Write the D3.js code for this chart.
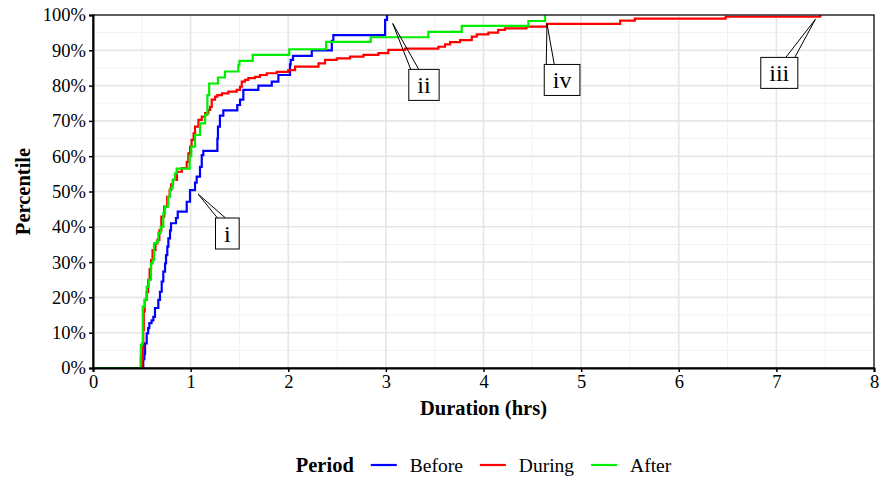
<!DOCTYPE html>
<html>
<head>
<meta charset="utf-8">
<script src="https://cdn.jsdelivr.net/npm/d3@7"></script>
<style>
  body { margin: 0; background: #fff; }
  text { font-family: "Liberation Serif", "Times New Roman", serif; }
</style>
</head>
<body>
<div class="canvas"></div>
<script>
// step points of each ECDF: duration (hrs) and percentile reached at that duration
const beforeHrs = [0.515, 0.526, 0.533, 0.55, 0.565, 0.577, 0.60, 0.618, 0.635, 0.669, 0.686, 0.704, 0.72, 0.738, 0.748, 0.761, 0.772, 0.789, 0.799, 0.85, 0.868, 0.96, 0.994, 1.045, 1.062, 1.096, 1.114, 1.13, 1.274, 1.28, 1.30, 1.335, 1.478, 1.506, 1.54, 1.694, 1.831, 1.899, 2.018, 2.025, 2.049, 2.241, 2.446, 2.462, 2.992, 3.012];
const beforePct = [2.5, 4, 7, 9.8, 11.3, 12.7, 13.5, 14.5, 17, 19.3, 21.6, 24.5, 27.3, 29.6, 32, 34.4, 36.7, 39, 41, 42.5, 44.3, 47.1, 50.4, 52.5, 54.2, 57, 60.3, 61.5, 65, 68.4, 71.5, 73, 74.5, 76, 78.8, 80, 81.1, 83, 86, 87.3, 88.4, 90, 92.7, 94.3, 98.6, 100];

const duringHrs = [0.50, 0.51, 0.515, 0.52, 0.53, 0.55, 0.565, 0.58, 0.595, 0.61, 0.64, 0.66, 0.68, 0.70, 0.73, 0.76, 0.785, 0.80, 0.82, 0.86, 0.91, 0.96, 0.977, 0.995, 1.01, 1.03, 1.045, 1.08, 1.114, 1.148, 1.182, 1.20, 1.216, 1.25, 1.273, 1.32, 1.386, 1.472, 1.506, 1.524, 1.557, 1.591, 1.66, 1.711, 1.78, 1.882, 2.0, 2.07, 2.31, 2.377, 2.497, 2.633, 2.77, 2.923, 3.025, 3.197, 3.538, 3.606, 3.658, 3.76, 3.88, 3.931, 4.05, 4.15, 4.22, 4.44, 4.65, 5.40, 5.55, 6.48, 7.45];
const duringPct = [2.5, 5.6, 10.8, 16, 19.3, 21.5, 25, 28, 30.6, 33.4, 35.3, 36.3, 39, 42.9, 45.7, 48.5, 50.4, 52, 53.3, 55.6, 56.6, 58.4, 60.8, 62.7, 64.6, 66.5, 68.4, 70.3, 71.2, 72.2, 73.1, 74, 76, 76.9, 77.3, 77.8, 78.3, 78.8, 79.7, 81.1, 81.6, 82.1, 82.5, 83, 83.5, 83.9, 84.4, 85.4, 86.3, 87.3, 87.7, 88.2, 88.7, 89.2, 90.1, 90.5, 91, 91.7, 92.3, 92.9, 93.9, 94.5, 95, 95.8, 96.2, 96.7, 97.5, 98.4, 99, 99.5, 100];

const afterHrs = [0.487, 0.49, 0.50, 0.51, 0.53, 0.55, 0.57, 0.594, 0.612, 0.625, 0.652, 0.669, 0.693, 0.72, 0.738, 0.77, 0.789, 0.816, 0.84, 0.857, 0.99, 1.007, 1.045, 1.096, 1.148, 1.172, 1.19, 1.28, 1.352, 1.489, 1.50, 1.636, 2.01, 2.388, 2.845, 3.435, 3.777, 4.46, 4.63];
const afterPct = [3, 6.5, 7, 17.4, 19.3, 23, 25, 29.6, 30.6, 35.3, 35.8, 38.2, 40, 43.8, 45.7, 48.5, 50.9, 53.3, 55.1, 56.5, 60, 62.7, 66, 69.3, 71.7, 77.3, 80.6, 82.3, 84, 85.8, 87, 88.7, 90.3, 92.4, 93.7, 95.2, 96.9, 98.3, 100];

const periods = ["Before", "During", "After"];
const periodColors = ["#0000ff", "#ff0000", "#00ee00"];

const xTicks = [0, 1, 2, 3, 4, 5, 6, 7, 8];
const yTicks = [0, 10, 20, 30, 40, 50, 60, 70, 80, 90, 100];

// callout labels: text, point (hrs, pct), label centre (hrs, pct)
const calloutText = ["i", "ii", "iii", "iv"];
const calloutTip = [[1.076, 49.3], [3.07, 97.6], [7.4, 98.8], [4.65, 97.6]];
const calloutAt = [[1.376, 38.1], [3.39, 80.2], [7.03, 83.6], [4.805, 81.6]];

const width = 884, height = 478;
const margin = { top: 15, right: 10, bottom: 110, left: 93 };

const svg = d3.select(".canvas").append("svg")
  .attr("width", width)
  .attr("height", height)
  .style("font-family", "'Liberation Serif', serif");

const x = d3.scaleLinear().domain([0, 8]).range([margin.left, width - margin.right]);
const y = d3.scaleLinear().domain([0, 100]).range([height - margin.bottom, margin.top]);

// grid
const minorX = d3.range(0.5, 8, 1);
const minorY = d3.range(5, 100, 10);
svg.append("g").selectAll("line").data(minorX).join("line")
  .attr("x1", d => x(d)).attr("x2", d => x(d))
  .attr("y1", y(0)).attr("y2", y(100))
  .attr("stroke", "#f2f2f2").attr("stroke-width", 1);
svg.append("g").selectAll("line").data(minorY).join("line")
  .attr("x1", x(0)).attr("x2", x(8))
  .attr("y1", d => y(d)).attr("y2", d => y(d))
  .attr("stroke", "#f2f2f2").attr("stroke-width", 1);
svg.append("g").selectAll("line").data(xTicks).join("line")
  .attr("x1", d => x(d)).attr("x2", d => x(d))
  .attr("y1", y(0)).attr("y2", y(100))
  .attr("stroke", "#e6e6e6").attr("stroke-width", 1.6);
svg.append("g").selectAll("line").data(yTicks).join("line")
  .attr("x1", x(0)).attr("x2", x(8))
  .attr("y1", d => y(d)).attr("y2", d => y(d))
  .attr("stroke", "#e6e6e6").attr("stroke-width", 1.6);

// ecdf lines
const series = [
  [beforeHrs, beforePct],
  [duringHrs, duringPct],
  [afterHrs, afterPct]
];
const line = d3.line()
  .x(d => x(d[0]))
  .y(d => y(d[1]))
  .curve(d3.curveStepAfter);

series.forEach(([hrs, pct], i) => {
  const pts = [[0, 0]].concat(hrs.map((h, j) => [h, pct[j]]));
  svg.append("path")
    .datum(pts)
    .attr("fill", "none")
    .attr("stroke", periodColors[i])
    .attr("stroke-width", 2.2)
    .attr("d", line);
});

// panel border
svg.append("rect")
  .attr("x", x(0)).attr("y", y(100))
  .attr("width", x(8) - x(0)).attr("height", y(0) - y(100))
  .attr("fill", "none").attr("stroke", "#000").attr("stroke-width", 1.2);

// axes
const xAxis = svg.append("g")
  .attr("transform", `translate(0,${y(0)})`)
  .call(d3.axisBottom(x).tickValues(xTicks).tickFormat(d3.format("d")).tickSize(4).tickPadding(3));
const yAxis = svg.append("g")
  .attr("transform", `translate(${x(0)},0)`)
  .call(d3.axisLeft(y).tickValues(yTicks).tickFormat(d => d + "%").tickSize(4).tickPadding(3));
[xAxis, yAxis].forEach(a => {
  a.select(".domain").attr("stroke", "#000").attr("stroke-width", 2);
  a.selectAll(".tick line").attr("stroke", "#000").attr("stroke-width", 1.5);
  a.selectAll(".tick text")
    .attr("fill", "#000")
    .style("font-family", "'Liberation Serif', serif")
    .style("font-size", "18.5px");
});

svg.append("text")
  .attr("x", (x(0) + x(8)) / 2)
  .attr("y", 415)
  .attr("text-anchor", "middle")
  .style("font-size", "20.5px")
  .style("font-weight", "bold")
  .text("Duration (hrs)");

svg.append("text")
  .attr("transform", `translate(30,${(y(0) + y(100)) / 2}) rotate(-90)`)
  .attr("text-anchor", "middle")
  .style("font-size", "20.5px")
  .style("font-weight", "bold")
  .text("Percentile");

// callouts
calloutText.forEach((t, i) => {
  const g = svg.append("g");
  const tx = x(calloutTip[i][0]), ty = y(calloutTip[i][1]);
  const cx = x(calloutAt[i][0]), cy = y(calloutAt[i][1]);
  const label = g.append("text")
    .attr("x", cx).attr("y", cy)
    .attr("text-anchor", "middle")
    .attr("dominant-baseline", "central")
    .style("font-size", "24px")
    .text(t);
  const w = label.node().getComputedTextLength() + 17;
  const h = 31;
  const left = cx - w / 2, top = cy - h / 2;
  const bx = tx < cx ? [left + 2, left + 10] : [left + w - 12, left + w - 3];
  g.insert("path", "text")
    .attr("d", `M${bx[0]},${top}L${tx},${ty}L${bx[1]},${top}`)
    .attr("fill", "none").attr("stroke", "#000").attr("stroke-width", 1);
  g.insert("rect", "text")
    .attr("x", left).attr("y", top)
    .attr("width", w).attr("height", h)
    .attr("fill", "#fff").attr("stroke", "#000").attr("stroke-width", 1);
});

// legend
const legend = svg.append("g");
const lt = legend.append("text")
  .attr("y", 465).attr("dominant-baseline", "central")
  .style("font-size", "20.5px").style("font-weight", "bold")
  .text("Period");
let cursor = lt.node().getComputedTextLength() + 17;
periods.forEach((p, i) => {
  legend.append("line")
    .attr("x1", cursor).attr("x2", cursor + 26)
    .attr("y1", 465).attr("y2", 465)
    .attr("stroke", periodColors[i]).attr("stroke-width", 2.2);
  cursor += 39;
  const t = legend.append("text")
    .attr("x", cursor).attr("y", 465).attr("dominant-baseline", "central")
    .style("font-size", "19.5px")
    .text(p);
  cursor += t.node().getComputedTextLength() + (i < periods.length - 1 ? 17 : 0);
});
legend.attr("transform", `translate(${(x(0) + x(8)) / 2 - cursor / 2},0)`);
</script>
</body>
</html>
